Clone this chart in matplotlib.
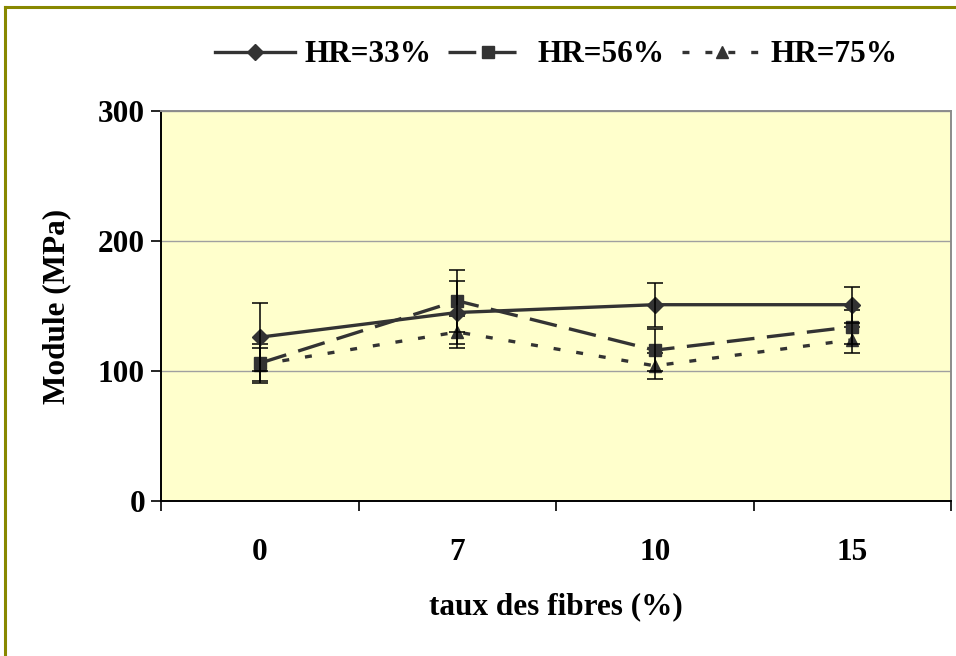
import matplotlib
matplotlib.use("Agg")
import matplotlib.pyplot as plt
from matplotlib.lines import Line2D
from matplotlib.ticker import FixedLocator
import numpy as np

# Data: modulus vs fibre content for three relative humidities
categories = ["0", "7", "10", "15"]
hr33 = [126, 145, 151, 151]
err33 = [26, 24, 17, 14]
hr56 = [106, 154, 116, 134]
err56 = [15, 24, 16, 13]
hr75 = [105, 130, 104, 124]
err75 = [13, 12, 10, 10]
series_labels = ["HR=33%", "HR=56%", "HR=75%"]
y_ticks = [0, 100, 200, 300]

plt.rcParams["font.family"] = ["Liberation Serif", "DejaVu Serif"]
plt.rcParams["font.weight"] = "bold"
plt.rcParams["lines.scale_dashes"] = False

FS = 22.5
LINE_C = "#333333"

fig = plt.figure(figsize=(9.56, 6.56), dpi=100)
ax = fig.add_axes([161 / 956, 1 - 501 / 656, 790 / 956, 390 / 656])
ax.set_facecolor("#FFFFCC")

x = np.arange(len(categories))

styles = [
    dict(ls="-", marker="D", ms=8),
    dict(ls=(0, (20, 9)), marker="s", ms=8),
    dict(ls=(0, (5, 11.5)), marker="^", ms=8.5),
]
data = [(hr33, err33), (hr56, err56), (hr75, err75)]

handles = []
for (vals, errs), st, lab, z in zip(data, styles, series_labels, [5, 4, 3]):
    ax.errorbar(x, vals, yerr=errs, fmt="none", ecolor="black",
                elinewidth=1.1, capsize=5.5, capthick=1.1, zorder=z + 0.5)
    ln, = ax.plot(x, vals, color=LINE_C, lw=2.4, linestyle=st["ls"],
                  marker=st["marker"], markersize=st["ms"], markerfacecolor=LINE_C,
                  markeredgecolor=LINE_C, label=lab, zorder=z)
    handles.append(ln)

ax.set_xlim(-0.5, len(categories) - 0.5)
ax.set_ylim(0, 300)
ax.set_yticks(y_ticks)
ax.set_yticklabels([str(v) for v in y_ticks], fontsize=FS, fontweight="bold")
ax.yaxis.grid(True, color="#A0A0A0", lw=1.0)
ax.set_axisbelow(True)

ax.set_xticks(x)
ax.set_xticklabels(categories, fontsize=FS, fontweight="bold")
ax.xaxis.set_minor_locator(FixedLocator(np.arange(-0.5, len(categories), 1.0)))
ax.tick_params(axis="x", which="major", length=0, pad=27)
ax.tick_params(axis="x", which="minor", length=7.5, width=1.2, direction="out")
ax.tick_params(axis="y", which="major", length=7.5, width=1.2, direction="out", pad=4)

for side in ["left", "bottom"]:
    ax.spines[side].set_color("black")
    ax.spines[side].set_linewidth(1.4)
for side in ["top", "right"]:
    ax.spines[side].set_color("#8C8C8C")
    ax.spines[side].set_linewidth(1.4)

ax.set_xlabel("taux des fibres (%)", fontsize=FS, fontweight="bold")
ax.xaxis.label.set_va("center")
ax.xaxis.set_label_coords(0.5, -(607 - 501) / 390)
ax.set_ylabel("Module (MPa)", fontsize=FS, fontweight="bold")
ax.yaxis.label.set_va("center")
ax.yaxis.set_label_coords((57 - 161) / 790, 0.5)

fig.legend(handles=handles, labels=series_labels, loc="center",
           bbox_to_anchor=(556.5 / 956, 1 - 55 / 656), ncol=3, frameon=False,
           handlelength=2.55, handletextpad=0.3,
           columnspacing=0.55, borderpad=0.2,
           prop=dict(size=FS, weight="bold"))

# Olive outline of the chart area
fig.add_artist(Line2D([5 / 956, 5 / 956], [0, 1 - 7 / 656],
                      transform=fig.transFigure, color="#888800", lw=2.2))
fig.add_artist(Line2D([5 / 956, 1], [1 - 7 / 656, 1 - 7 / 656],
                      transform=fig.transFigure, color="#888800", lw=2.2))

fig.savefig("out.png", dpi=100)
